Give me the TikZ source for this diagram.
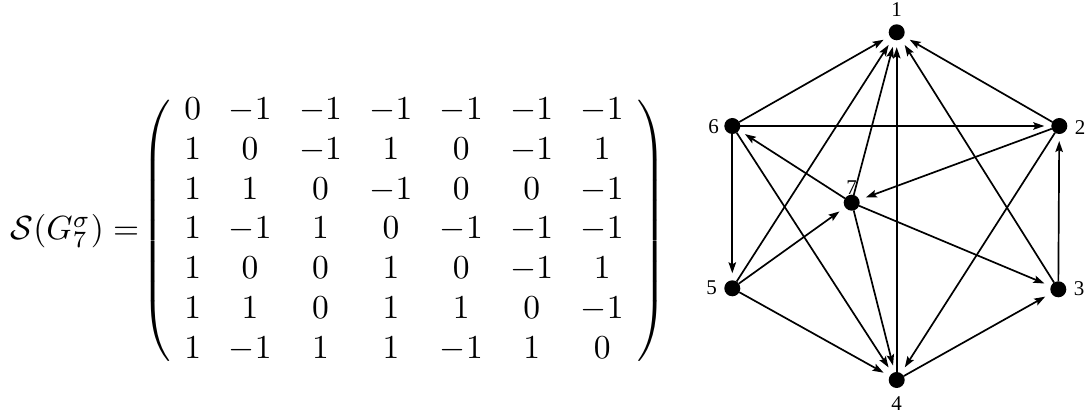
\documentclass[tikz,border=0pt]{standalone}
\usepackage{fontspec}
\usepackage{amsmath}
\newfontfamily\lblfont{Liberation Serif}
\usetikzlibrary{arrows.meta}
\tikzset{
  vtx/.style={circle,fill=black,inner sep=0pt,minimum size=16pt,outer sep=0pt},
  vlbl/.style={font={\fontsize{21}{23}\lblfont},inner sep=0pt},
  arc/.style={line width=1.7pt,-{Stealth[length=11pt,width=7.5pt,inset=2pt]},shorten >=7pt},
  eq/.style={inner sep=0pt,scale=3.35,font=\fontsize{10}{11.85}\selectfont}
}
\begin{document}
\begin{tikzpicture}[x=1pt,y=1pt]
\useasboundingbox (0,0) rectangle (1088,417);
% equation
\node[eq,anchor=base west] (lhs) at (10,177.6) {$\mathcal{S}(G_7^{\sigma}) =$};
\node[eq,anchor=base] (mat) at (404,177.6) {\setlength{\arraycolsep}{4.12pt}$\left(\begin{array}{ccccccc}
0 & -1 & -1 & -1 & -1 & -1 & -1\\
1 & 0 & -1 & 1 & 0 & -1 & 1\\
1 & 1 & 0 & -1 & 0 & 0 & -1\\
1 & -1 & 1 & 0 & -1 & -1 & -1\\
1 & 0 & 0 & 1 & 0 & -1 & 1\\
1 & 1 & 0 & 1 & 1 & 0 & -1\\
1 & -1 & 1 & 1 & -1 & 1 & 0
\end{array}\right)$};
% vertices
\node[vtx] (v1) at (896.7,384.7) {};
\node[vtx] (v2) at (1059.3,291) {};
\node[vtx] (v3) at (1058.3,127.7) {};
\node[vtx] (v4) at (896.7,37) {};
\node[vtx] (v5) at (732.3,128.7) {};
\node[vtx] (v6) at (732.3,291) {};
\node[vtx] (v7) at (851.7,214.3) {};
% labels
\node[vlbl] (l1) at (896.7,407) {1};
\node[vlbl] (l2) at (1080,289) {2};
\node[vlbl] (l3) at (1079,128) {3};
\node[vlbl] (l4) at (896.7,13.7) {4};
\node[vlbl] (l5) at (711.7,129.7) {5};
\node[vlbl] (l6) at (713.5,290.3) {6};
\node[vlbl] (l7) at (851.7,229) {7};
% arcs
\draw[arc] (v2) -- (v1);
\draw[arc] (v3) -- (v1);
\draw[arc] (v4) -- (v1);
\draw[arc] (v5) -- (v1);
\draw[arc] (v6) -- (v1);
\draw[arc] (v7) -- (v1);
\draw[arc] (v6) -- (v2);
\draw[arc] (v3) -- (v2);
\draw[arc] (v2) -- (v4);
\draw[arc] (v2) -- (v7);
\draw[arc] (v4) -- (v3);
\draw[arc] (v7) -- (v3);
\draw[arc] (v5) -- (v4);
\draw[arc] (v6) -- (v4);
\draw[arc] (v7) -- (v4);
\draw[arc] (v6) -- (v5);
\draw[arc] (v5) -- (v7);
\draw[arc] (v7) -- (v6);
\end{tikzpicture}
\end{document}
